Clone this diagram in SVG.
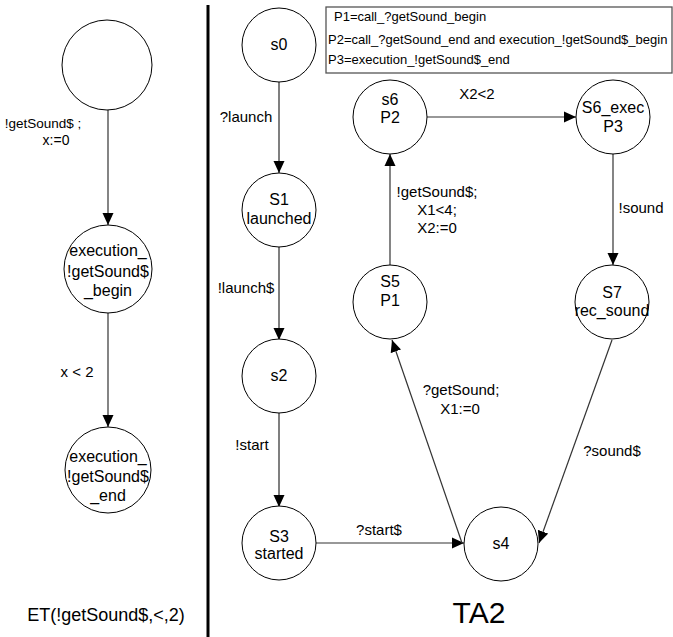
<svg xmlns="http://www.w3.org/2000/svg" width="673" height="637" viewBox="0 0 673 637">
<style>
.st{fill:#fff;stroke:#000;stroke-width:1}
.t{font-family:"Liberation Sans",Arial,sans-serif;font-size:15px;fill:#000;text-anchor:middle}
.n{font-family:"Liberation Sans",Arial,sans-serif;font-size:16px;fill:#000;text-anchor:middle}
.lg{font-family:"Liberation Sans",Arial,sans-serif;font-size:13px;fill:#000}
.e{fill:none;stroke:#333;stroke-width:1.2;marker-end:url(#ah)}
.eg{fill:none;stroke:#555;stroke-width:1.5;marker-end:url(#ah)}
</style>
<defs>
<marker id="ah" markerUnits="userSpaceOnUse" markerWidth="12" markerHeight="12" viewBox="0 0 12 12" refX="12" refY="6" orient="auto">
<path d="M0,0.5 L12,6 L0,11.5 Z" fill="#000"/>
</marker>
</defs>
<rect width="673" height="637" fill="#fff"/>
<line x1="208" y1="5" x2="208" y2="637" stroke="#000" stroke-width="3"/>
<g id="connectors">
<line class="e" x1="108" y1="110" x2="108" y2="225"/>
<line class="e" x1="108" y1="313" x2="108" y2="427"/>
<line class="eg" x1="279" y1="82" x2="279" y2="173"/>
<line class="eg" x1="279" y1="247" x2="279" y2="340"/>
<line class="eg" x1="279" y1="413" x2="279" y2="507"/>
<line class="e" x1="316" y1="543" x2="464" y2="543"/>
<line class="e" x1="462" y1="543" x2="392" y2="340"/>
<line class="e" x1="390" y1="265" x2="390" y2="154"/>
<line class="e" x1="427" y1="117" x2="576" y2="117"/>
<line class="e" x1="613" y1="154" x2="613" y2="265"/>
<line class="e" x1="612" y1="340" x2="539" y2="543"/>
<text class="t" x="43" y="128" style="font-size:13.5px">!getSound$ ;</text>
<text class="t" x="56" y="145" style="font-size:14px">x:=0</text>
<text class="t" x="77" y="377">x &lt; 2</text>
<text class="t" x="246" y="122">?launch</text>
<text class="t" x="246" y="293">!launch$</text>
<text class="t" x="252" y="450">!start</text>
<text class="t" x="379" y="535">?start$</text>
<text class="t" x="461" y="395">?getSound;</text>
<text class="t" x="460" y="414">X1:=0</text>
<text class="t" x="437" y="197">!getSound$;</text>
<text class="t" x="437" y="215">X1&lt;4;</text>
<text class="t" x="437" y="233">X2:=0</text>
<text class="t" x="477" y="99">X2&lt;2</text>
<text class="t" x="641" y="213">!sound</text>
<text class="t" x="612" y="456">?sound$</text>
</g>
<g id="n_top"><circle class="st" cx="107" cy="65" r="45"/></g>
<g id="n_begin"><circle class="st" cx="108" cy="269" r="44"/>
<text class="n" x="108" y="256">execution_</text>
<text class="n" x="108" y="277">!getSound$</text>
<text class="n" x="108" y="296">_begin</text></g>
<g id="n_end"><circle class="st" cx="108" cy="470" r="43"/>
<text class="n" x="108" y="462">execution_</text>
<text class="n" x="108" y="482">!getSound$</text>
<text class="n" x="108" y="501">_end</text></g>
<text class="t" x="106" y="621" style="font-size:18px">ET(!getSound$,&lt;,2)</text>
<g id="n_s0"><circle class="st" cx="279" cy="45" r="37"/><text class="n" x="279" y="50">s0</text></g>
<g id="n_s1"><circle class="st" cx="279" cy="210" r="37"/><text class="n" x="279" y="205">S1</text><text class="n" x="279" y="224">launched</text></g>
<g id="n_s2"><circle class="st" cx="279" cy="376" r="37"/><text class="n" x="279" y="381">s2</text></g>
<g id="n_s3"><circle class="st" cx="279" cy="543" r="37"/><text class="n" x="279" y="542">S3</text><text class="n" x="279" y="559">started</text></g>
<g id="n_s4"><circle class="st" cx="501" cy="544" r="37"/><text class="n" x="501" y="549">s4</text></g>
<g id="n_s5"><circle class="st" cx="390" cy="302" r="37"/><text class="n" x="390" y="287">S5</text><text class="n" x="390" y="306">P1</text></g>
<g id="n_s6"><circle class="st" cx="390" cy="117" r="37"/><text class="n" x="390" y="105">s6</text><text class="n" x="390" y="123">P2</text></g>
<g id="n_s6exec"><circle class="st" cx="613" cy="117" r="37"/><text class="n" x="613" y="113">S6_exec</text><text class="n" x="613" y="132">P3</text></g>
<g id="n_s7"><circle class="st" cx="612" cy="302" r="37"/><text class="n" x="612" y="298">S7</text><text class="n" x="612" y="316">rec_sound</text></g>
<g id="legend">
<rect x="326" y="7" width="346" height="66" fill="#fff" stroke="#555" stroke-width="1.3"/>
<text class="lg" x="334" y="21">P1=call_?getSound_begin</text>
<text class="lg" x="328" y="44">P2=call_?getSound_end and execution_!getSound$_begin</text>
<text class="lg" x="328" y="64">P3=execution_!getSound$_end</text>
</g>
<text class="t" x="479" y="623" style="font-size:30px">TA2</text>
</svg>
